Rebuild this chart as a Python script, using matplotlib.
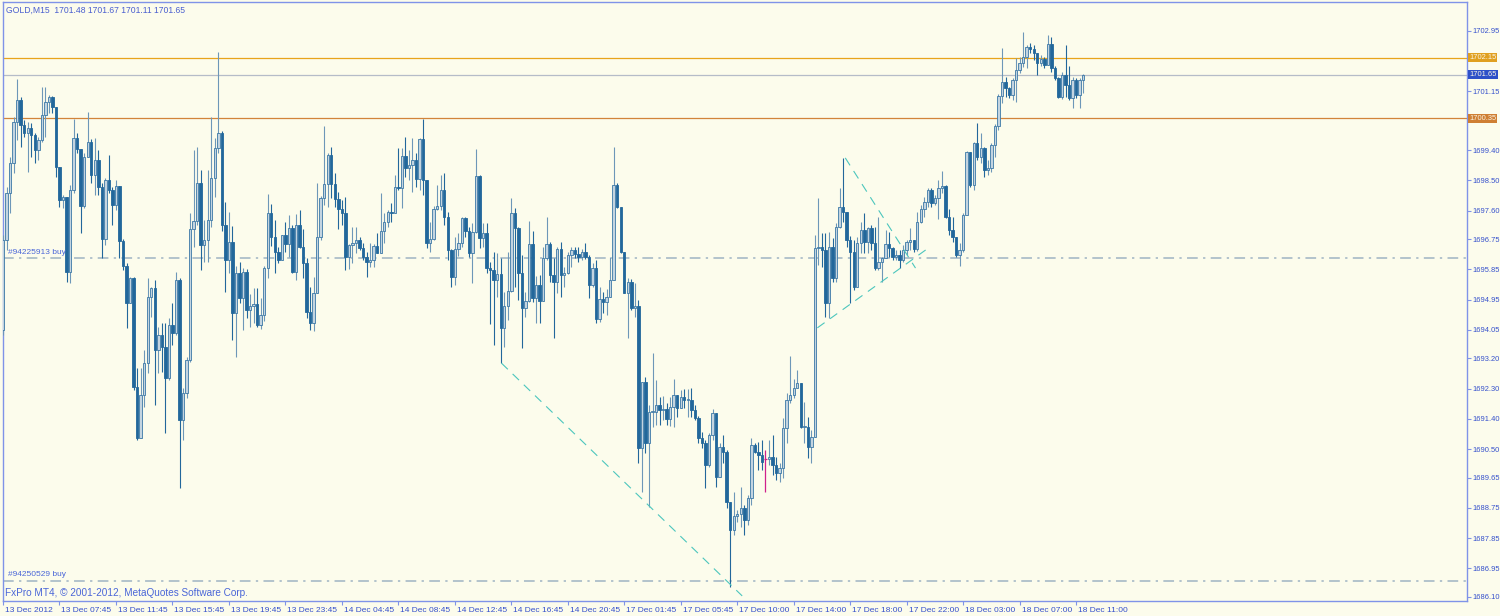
import numpy as np
import matplotlib
matplotlib.use("Agg")
import matplotlib.pyplot as plt
from matplotlib.transforms import blended_transform_factory, ScaledTranslation

# ---------------- data (GOLD, M15) ----------------
first_open = 1694.05
closes = [
    1696.73, 1698.12, 1699.02, 1700.24, 1700.89, 1700.15, 1699.91, 1700.06, 1699.85, 1699.40,
    1699.70, 1700.45, 1700.83, 1700.98, 1700.68, 1698.90, 1697.92, 1698.00, 1695.77, 1698.21,
    1699.76, 1699.43, 1697.74, 1699.19, 1699.64, 1698.66, 1699.11, 1698.30, 1696.75, 1698.51,
    1698.21, 1697.77, 1698.33, 1696.70, 1695.95, 1694.85, 1695.59, 1692.35, 1690.83, 1692.11,
    1693.06, 1695.03, 1695.29, 1693.45, 1693.90, 1693.54, 1692.62, 1694.19, 1693.96, 1695.53,
    1691.37, 1692.17, 1693.15, 1697.05, 1697.29, 1698.42, 1696.58, 1696.73, 1697.32, 1698.57,
    1699.46, 1699.91, 1697.17, 1696.13, 1696.67, 1694.55, 1695.74, 1695.00, 1695.77, 1694.64,
    1694.76, 1694.82, 1694.19, 1694.49, 1695.89, 1697.53, 1696.81, 1696.37, 1696.13, 1696.87,
    1696.61, 1697.08, 1695.77, 1697.17, 1696.52, 1696.04, 1694.58, 1694.25, 1695.15, 1696.81,
    1697.98, 1698.39, 1699.25, 1698.39, 1697.95, 1697.65, 1697.53, 1696.22, 1696.58, 1696.64,
    1696.73, 1696.49, 1696.22, 1696.07, 1696.13, 1696.55, 1696.34, 1696.99, 1697.26, 1697.56,
    1697.53, 1698.30, 1698.27, 1699.22, 1698.87, 1698.96, 1699.11, 1698.54, 1699.73, 1698.51,
    1696.64, 1696.75, 1697.65, 1697.74, 1698.21, 1697.41, 1696.43, 1695.62, 1696.46, 1696.64,
    1697.38, 1696.99, 1696.34, 1696.96, 1698.63, 1696.79, 1696.93, 1695.89, 1695.83, 1695.53,
    1695.71, 1694.11, 1694.76, 1695.21, 1697.53, 1697.08, 1695.74, 1694.70, 1694.91, 1696.61,
    1695.00, 1695.38, 1694.91, 1696.19, 1696.61, 1695.68, 1695.47, 1696.46, 1695.68, 1695.74,
    1696.28, 1696.43, 1696.31, 1696.22, 1696.37, 1696.22, 1695.38, 1695.89, 1694.37, 1694.97,
    1694.88, 1695.03, 1695.53, 1698.36, 1697.71, 1696.37, 1695.15, 1695.47, 1694.70, 1694.76,
    1690.53, 1692.50, 1690.68, 1691.60, 1691.60, 1691.81, 1691.66, 1691.69, 1691.40, 1691.75,
    1692.11, 1691.72, 1692.05, 1691.96, 1691.96, 1691.66, 1691.42, 1690.83, 1690.68, 1690.03,
    1690.92, 1691.57, 1689.67, 1690.56, 1690.41, 1688.93, 1688.09, 1688.51, 1688.57, 1688.75,
    1688.39, 1689.04, 1690.62, 1690.41, 1690.32, 1690.12, 1690.21, 1690.27, 1690.03, 1689.79,
    1689.94, 1691.13, 1691.96, 1692.11, 1692.32, 1692.47, 1691.16, 1691.16, 1690.56, 1690.86,
    1696.49, 1696.52, 1696.43, 1694.85, 1696.52, 1695.59, 1697.11, 1697.71, 1697.56, 1696.73,
    1696.37, 1695.33, 1696.64, 1697.02, 1696.67, 1697.08, 1696.64, 1695.89, 1696.07, 1696.19,
    1696.61, 1696.49, 1696.22, 1696.28, 1696.13, 1696.43, 1696.67, 1696.73, 1696.46, 1697.26,
    1697.65, 1697.86, 1698.21, 1697.83, 1697.98, 1698.27, 1698.33, 1697.41, 1697.02, 1696.81,
    1696.28, 1696.43, 1697.47, 1699.34, 1698.36, 1699.61, 1699.19, 1699.46, 1698.81, 1698.87,
    1699.55, 1700.12, 1701.01, 1701.43, 1701.25, 1701.04, 1701.49, 1701.79, 1701.99, 1702.17,
    1702.47, 1702.41, 1702.29, 1701.99, 1702.11, 1701.93, 1702.56, 1701.84, 1701.55, 1700.98,
    1701.64, 1701.34, 1700.95, 1701.49, 1701.04, 1701.48, 1701.65]
highs = [
    1696.88, 1698.30, 1699.19, 1700.39, 1701.52, 1700.98, 1700.30, 1700.24, 1700.21, 1699.91,
    1699.79, 1701.28, 1701.28, 1701.04, 1701.01, 1700.68, 1698.90, 1698.06, 1697.95, 1698.36,
    1700.33, 1699.91, 1699.40, 1699.31, 1700.54, 1699.73, 1699.76, 1699.40, 1698.42, 1698.57,
    1699.25, 1698.30, 1698.51, 1698.33, 1696.75, 1696.04, 1695.62, 1695.62, 1692.92, 1692.92,
    1693.45, 1695.59, 1695.33, 1695.53, 1694.14, 1694.25, 1694.25, 1694.40, 1694.85, 1695.77,
    1695.59, 1692.32, 1693.24, 1697.53, 1699.40, 1699.49, 1698.81, 1697.32, 1698.81, 1700.39,
    1699.76, 1702.32, 1699.97, 1697.86, 1697.56, 1697.14, 1695.95, 1696.07, 1695.89, 1695.86,
    1695.12, 1695.29, 1695.29, 1695.00, 1695.95, 1698.09, 1697.80, 1697.32, 1696.52, 1696.87,
    1697.26, 1697.47, 1697.17, 1697.50, 1697.62, 1697.05, 1696.19, 1695.33, 1695.62, 1698.42,
    1698.03, 1700.12, 1699.31, 1699.49, 1698.72, 1698.15, 1697.92, 1698.00, 1696.61, 1697.11,
    1697.11, 1696.81, 1696.64, 1696.37, 1696.64, 1696.61, 1696.93, 1698.12, 1697.53, 1697.62,
    1697.83, 1698.66, 1699.46, 1699.46, 1699.79, 1699.40, 1699.76, 1699.31, 1699.76, 1700.33,
    1698.48, 1697.26, 1697.74, 1698.36, 1698.66, 1698.72, 1697.56, 1696.46, 1696.81, 1696.93,
    1697.41, 1697.41, 1697.11, 1697.23, 1699.43, 1698.66, 1697.23, 1697.23, 1696.07, 1696.37,
    1696.34, 1696.19, 1695.18, 1696.37, 1697.98, 1697.68, 1697.11, 1696.28, 1695.18, 1697.29,
    1696.99, 1695.65, 1695.68, 1696.52, 1697.41, 1696.67, 1696.19, 1696.52, 1696.67, 1695.92,
    1696.37, 1696.52, 1696.52, 1696.52, 1696.46, 1696.64, 1696.28, 1696.04, 1696.13, 1695.33,
    1695.18, 1695.27, 1696.22, 1699.49, 1698.42, 1697.71, 1696.37, 1695.59, 1695.56, 1695.44,
    1694.94, 1692.50, 1692.65, 1691.81, 1693.36, 1692.56, 1692.05, 1692.08, 1691.87, 1692.05,
    1692.59, 1692.11, 1692.26, 1692.29, 1692.29, 1692.32, 1691.81, 1691.48, 1691.01, 1690.77,
    1690.98, 1691.69, 1691.51, 1690.68, 1690.92, 1690.47, 1688.93, 1689.22, 1688.69, 1689.37,
    1688.84, 1689.13, 1690.83, 1690.68, 1690.71, 1690.77, 1690.47, 1690.77, 1690.92, 1690.27,
    1690.09, 1691.42, 1692.17, 1693.27, 1692.59, 1692.86, 1692.47, 1691.90, 1691.45, 1691.07,
    1696.87, 1697.98, 1696.93, 1696.93, 1696.96, 1696.79, 1697.23, 1698.27, 1699.17, 1697.53,
    1696.84, 1696.73, 1696.81, 1697.26, 1697.53, 1697.11, 1697.17, 1697.11, 1697.41, 1696.22,
    1697.02, 1696.96, 1696.52, 1696.43, 1696.43, 1696.58, 1696.73, 1697.08, 1696.73, 1697.56,
    1697.77, 1698.00, 1698.27, 1698.27, 1698.06, 1698.51, 1698.78, 1698.36, 1697.65, 1697.41,
    1696.81, 1696.64, 1697.53, 1699.37, 1699.34, 1699.64, 1700.21, 1699.91, 1699.49, 1699.11,
    1699.61, 1700.18, 1701.07, 1702.44, 1701.58, 1701.28, 1701.55, 1702.14, 1702.17, 1702.92,
    1702.53, 1702.59, 1702.53, 1702.29, 1702.23, 1702.17, 1702.83, 1702.77, 1701.90, 1701.58,
    1701.73, 1702.53, 1701.90, 1701.58, 1701.55, 1701.55, 1701.67]
lows = [
    1693.90, 1696.43, 1697.53, 1698.72, 1699.70, 1699.49, 1699.79, 1698.75, 1699.19, 1699.02,
    1699.11, 1699.64, 1699.79, 1700.51, 1700.51, 1698.60, 1697.71, 1697.68, 1695.47, 1695.44,
    1698.12, 1699.31, 1696.93, 1697.68, 1699.34, 1698.42, 1698.06, 1698.06, 1696.19, 1696.58,
    1698.12, 1697.17, 1697.62, 1696.19, 1695.83, 1694.11, 1694.85, 1692.26, 1690.77, 1690.83,
    1691.75, 1692.77, 1694.43, 1691.81, 1692.77, 1692.80, 1690.98, 1692.56, 1693.60, 1693.90,
    1689.34, 1690.77, 1692.02, 1693.09, 1696.52, 1697.17, 1695.83, 1696.07, 1696.07, 1697.11,
    1698.00, 1699.31, 1696.99, 1695.18, 1695.74, 1693.75, 1693.24, 1694.85, 1694.05, 1694.40,
    1694.14, 1694.25, 1694.14, 1694.08, 1694.31, 1695.59, 1696.55, 1695.74, 1696.04, 1696.13,
    1696.37, 1696.22, 1695.74, 1695.53, 1696.49, 1695.59, 1694.40, 1694.05, 1694.02, 1695.15,
    1696.73, 1697.77, 1697.71, 1697.98, 1697.71, 1697.05, 1697.17, 1695.83, 1695.86, 1696.04,
    1696.34, 1696.43, 1696.13, 1695.62, 1695.92, 1695.92, 1696.34, 1696.34, 1696.64, 1697.11,
    1697.26, 1697.53, 1698.21, 1697.68, 1698.60, 1698.51, 1698.15, 1698.30, 1698.21, 1698.06,
    1696.49, 1696.37, 1696.73, 1697.62, 1697.62, 1697.17, 1696.13, 1695.33, 1695.38, 1696.25,
    1696.52, 1696.81, 1696.22, 1695.44, 1696.93, 1696.49, 1696.52, 1695.74, 1694.22, 1693.60,
    1695.03, 1693.06, 1693.54, 1694.34, 1695.18, 1695.33, 1694.94, 1693.51, 1694.43, 1694.88,
    1694.88, 1694.25, 1694.25, 1694.91, 1696.13, 1695.47, 1693.81, 1695.15, 1695.03, 1695.33,
    1695.71, 1695.92, 1696.19, 1696.07, 1696.13, 1696.16, 1695.00, 1695.33, 1694.25, 1694.28,
    1694.55, 1694.49, 1695.03, 1695.53, 1697.68, 1696.34, 1695.15, 1693.81, 1694.64, 1694.43,
    1690.09, 1689.22, 1690.38, 1688.78, 1691.16, 1691.22, 1691.22, 1691.37, 1691.22, 1691.19,
    1691.16, 1691.45, 1691.72, 1691.72, 1691.45, 1691.45, 1691.37, 1690.68, 1690.53, 1689.34,
    1689.97, 1690.77, 1689.37, 1689.73, 1690.09, 1688.75, 1686.40, 1687.94, 1688.33, 1688.18,
    1687.94, 1688.24, 1688.84, 1690.38, 1689.88, 1689.88, 1689.22, 1690.03, 1689.73, 1689.58,
    1689.52, 1689.64, 1690.68, 1691.87, 1692.02, 1692.32, 1691.13, 1690.68, 1690.24, 1690.09,
    1690.86, 1695.98, 1695.92, 1694.43, 1694.40, 1695.47, 1695.47, 1697.08, 1697.26, 1696.52,
    1694.85, 1695.24, 1695.33, 1696.34, 1696.34, 1696.34, 1696.43, 1695.83, 1695.83, 1695.47,
    1696.19, 1696.22, 1696.13, 1696.13, 1695.89, 1696.07, 1696.28, 1696.43, 1696.37, 1696.40,
    1697.23, 1697.41, 1697.71, 1697.71, 1697.77, 1697.35, 1698.12, 1697.38, 1696.87, 1696.67,
    1696.22, 1695.95, 1696.37, 1697.47, 1698.30, 1698.21, 1699.11, 1699.02, 1698.60, 1698.66,
    1698.75, 1699.19, 1700.00, 1700.80, 1700.98, 1700.95, 1700.89, 1700.83, 1701.70, 1701.88,
    1701.84, 1702.29, 1702.08, 1701.64, 1701.90, 1701.84, 1701.93, 1701.73, 1701.49, 1700.95,
    1700.92, 1700.98, 1700.89, 1700.65, 1700.95, 1700.65, 1701.11]
doji_bars = [216]

time_labels = ["13 Dec 2012", "13 Dec 07:45", "13 Dec 11:45", "13 Dec 15:45", "13 Dec 19:45",
               "13 Dec 23:45", "14 Dec 04:45", "14 Dec 08:45", "14 Dec 12:45", "14 Dec 16:45",
               "14 Dec 20:45", "17 Dec 01:45", "17 Dec 05:45", "17 Dec 10:00", "17 Dec 14:00",
               "17 Dec 18:00", "17 Dec 22:00", "18 Dec 03:00", "18 Dec 07:00", "18 Dec 11:00"]
label_step = 16
price_ticks = [1702.95, 1701.15, 1699.40, 1698.50, 1697.60, 1696.75, 1695.85, 1694.95, 1694.05,
               1693.20, 1692.30, 1691.40, 1690.50, 1689.65, 1688.75, 1687.85, 1686.95, 1686.10]

level_prices = [1702.15, 1701.65, 1700.35]
level_colors = ["#e8a41c", "#b5bcc8", "#d2843a"]
badge_colors = ["#e0a020", "#2d50c8", "#cf7f33"]
order_prices = [1696.18, 1686.58]
order_labels = ["#94225913 buy", "#94250529 buy"]
trend_lines = [((141.2, 1693.06), (209.4, 1686.13)),
               ((238.6, 1699.17), (258.5, 1695.89)),
               ((230.7, 1694.11), (261.4, 1696.43))]

header = "GOLD,M15  1701.48 1701.67 1701.11 1701.65"
footer = "FxPro MT4, \u00a9 2001-2012, MetaQuotes Software Corp."

# ---------------- style ----------------
BG = "#fcfcec"
AXC = "#7f93e8"
TXT = "#3550cc"
BEAR = "#22679b"
BULL_EDGE = "#3b78a6"
BULL_FACE = "#c3d4e0"
BULL_WICK = "#6d97b8"
FONT = "Liberation Sans"
FS = 6.0
FSY = 5.4

W, H = 1500, 616
fig = plt.figure(figsize=(W / 100, H / 100), dpi=100, facecolor=BG)
lpx, rpx, tpx, bpx = 2.5, 1466.5, 2.0, 601.0
ax = fig.add_axes([lpx / W, (H - bpx) / H, (rpx - lpx) / W, (bpx - tpx) / H])
ax.set_facecolor(BG)

x0, dx = 3.0, 3.53
ax.set_xlim((lpx - x0) / dx, (rpx - x0) / dx)
p0, k = 1703.87, 0.02977
ax.set_ylim(p0 - k * bpx, p0 - k * tpx)

c = np.array(closes)
h = np.array(highs)
l = np.array(lows)
o = np.concatenate([[first_open], c[:-1]])
n = len(c)
xs = np.arange(n)
h = np.maximum(h, np.maximum(o, c))
l = np.minimum(l, np.minimum(o, c))

bull = c >= o
doji = np.zeros(n, bool)
doji[doji_bars] = True
normal_bull = bull & ~doji
normal_bear = ~bull & ~doji

# wicks
ax.vlines(xs[normal_bull], l[normal_bull], h[normal_bull], color=BULL_WICK, lw=0.8, zorder=3)
ax.vlines(xs[normal_bear], l[normal_bear], h[normal_bear], color=BEAR, lw=0.8, zorder=3)
# bodies
bw = 0.68
hgt = np.maximum(np.abs(c - o), 0.03)
bot = np.minimum(o, c)
ax.bar(xs[normal_bull], hgt[normal_bull], bottom=bot[normal_bull], width=bw,
       color=BULL_FACE, edgecolor=BULL_EDGE, linewidth=0.6, zorder=4)
ax.bar(xs[normal_bear], hgt[normal_bear], bottom=bot[normal_bear], width=bw,
       color=BEAR, edgecolor=BEAR, linewidth=0.6, zorder=4)
# doji (magenta)
for i in doji_bars:
    ax.vlines(i, l[i], h[i], color="#d0208c", lw=0.9, zorder=5)
    ax.hlines(c[i], i - 0.5, i + 0.5, color="#d0208c", lw=0.9, zorder=5)

# horizontal levels
for p, col in zip(level_prices, level_colors):
    ax.axhline(p, color=col, lw=0.9, zorder=2)
for p in order_prices:
    ax.axhline(p, color="#9fb3c3", lw=1.1, dashes=[7, 3.5, 1.5, 3.5], zorder=2)

# trend lines
for (xa, ya), (xb, yb) in trend_lines:
    ax.plot([xa, xb], [ya, yb], color="#4cc6bd", lw=0.8, dashes=[8, 6], zorder=6)

# spines
for s in ax.spines.values():
    s.set_color(AXC)
    s.set_linewidth(1.0)

# y axis on right
ax.yaxis.tick_right()
ax.set_yticks(price_ticks)
ax.set_yticklabels([f"{v:.2f}" for v in price_ticks])
ax.tick_params(axis="y", direction="out", length=3, width=0.8, color=AXC,
               labelcolor=TXT, labelsize=FSY, pad=1.5)
for t in ax.get_yticklabels():
    t.set_fontfamily(FONT)

# x axis
tick_pos = [i * label_step for i in range(len(time_labels))]
ax.set_xticks(tick_pos)
ax.set_xticklabels(time_labels)
ax.tick_params(axis="x", direction="out", length=3, width=0.8, color=AXC,
               labelcolor=TXT, labelsize=FS, pad=1.5)
shift = ScaledTranslation(2 / 100, 0, fig.dpi_scale_trans)
for t in ax.get_xticklabels():
    t.set_fontfamily(FONT)
    t.set_ha("left")
    t.set_transform(t.get_transform() + shift)

# price badges on the right axis
bt = blended_transform_factory(ax.transAxes, ax.transData)
for p, col in zip(level_prices, badge_colors):
    ax.text(1.0 + 2.5 / (rpx - lpx), p, f"{p:.2f}", transform=bt, ha="left", va="center",
            fontsize=FSY, family=FONT, color="#fbf6e6", clip_on=False, zorder=10,
            bbox=dict(boxstyle="square,pad=0.15", fc=col, ec="none"))

# order labels
at = blended_transform_factory(ax.transAxes, ax.transData)
for p, lab in zip(order_prices, order_labels):
    ax.text(5 / (rpx - lpx), p + 0.07, lab, transform=at, ha="left", va="bottom",
            fontsize=FS, family=FONT, color="#4a66d8", zorder=7)

# header and footer
fig.text(5.5 / W, 1 - 10 / H, header, ha="left", va="center", fontsize=6.2,
         family=FONT, color="#4a5fd0")
fig.text(5 / W, 1 - 593 / H, footer, ha="left", va="center", fontsize=7.2,
         family=FONT, color="#4a66d8")

fig.savefig("out.png", dpi=100, facecolor=BG)
